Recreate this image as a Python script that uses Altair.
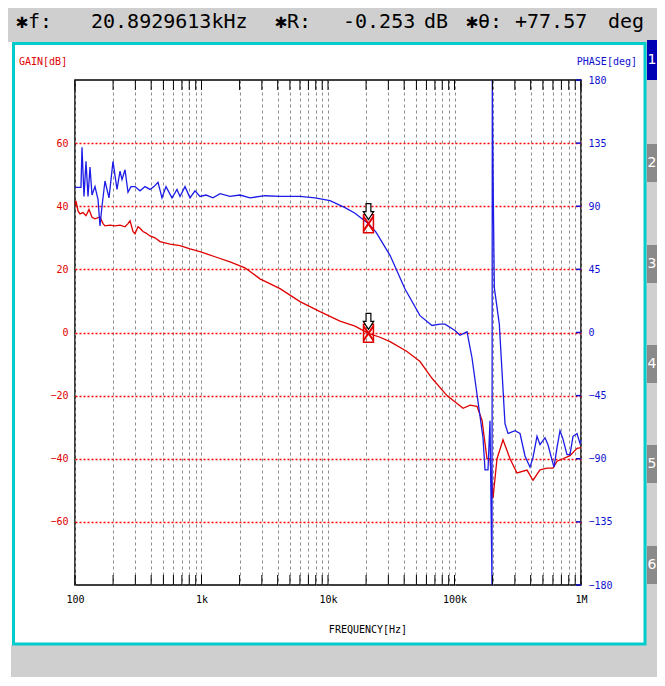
import altair as alt
import pandas as pd

# ---------------- data ----------------
gain_freq = [100, 101.8, 105.6, 109.5, 115.7, 122.2, 129.0, 136.3, 143.9, 157.6,
             166.5, 172.6, 189.1, 207.2, 226.9, 248.5, 262.4, 272.2, 287.4, 298.1,
             314.8, 326.5, 344.8, 364.2, 391.6, 429.0, 469.9, 563.6, 676.1, 811.3,
             973.0, 1279, 1680, 2207, 2900, 4175, 6007, 8646, 12440, 16350,
             20893, 25770, 30920, 42130, 53380, 66390, 87230, 116800, 132600, 150600,
             165000, 180700, 190800, 201500, 216800, 241800, 274700, 312000, 374300, 417500,
             474300, 538500, 600800, 646100, 720600, 818500, 930000, 1000000]
gain_db = [40.5, 41.7, 38.5, 37.6, 38.0, 37.0, 39.0, 36.5, 36.0, 36.6,
           34.5, 33.8, 34.0, 33.8, 34.0, 33.5, 34.5, 35.4, 32.0, 31.3,
           33.5, 33.0, 32.0, 31.5, 30.6, 30.0, 28.8, 28.0, 27.5, 26.5,
           25.6, 24.0, 22.4, 20.5, 17.0, 13.9, 9.8, 6.6, 3.6, 2.0,
           -0.253, -1.5, -2.9, -6.0, -9.2, -14.5, -20.0, -24.0, -23.0, -23.4,
           -27.8, -40.0, -40.0, -52.5, -40.0, -34.0, -40.0, -44.5, -43.6, -46.8,
           -43.5, -43.0, -43.0, -40.8, -40.0, -39.0, -36.7, -36.5]

phase_freq = [100, 111.5, 113.6, 117.8, 122.2, 126.7, 131.4, 136.3, 143.9, 152.0,
              157.6, 163.5, 172.6, 185.7, 199.7, 214.8, 226.9, 235.3, 248.5, 262.4,
              277.2, 298.1, 326.5, 357.6, 391.6, 421.3, 453.1, 487.3, 524.1, 584.5,
              640.2, 676.1, 740.7, 811.3, 888.4, 973.0, 1085.5, 1233, 1401, 1680,
              2015, 2418, 3177, 4175, 6007, 7891, 10370, 13630, 16350, 20893,
              23960, 30920, 40620, 53380, 66390, 76800, 84120, 100900, 110500, 125600,
              137500, 150600, 168000, 174300, 184000, 190800, 194300, 197900, 199000, 202500,
              206400, 226100, 250700, 264900, 300900, 329500, 360900, 395400, 417500, 448900,
              474300, 519300, 548400, 590000, 611800, 646100, 682300, 720600, 775100, 818500,
              864700, 930000, 982000, 1000000]
phase_deg = [103.5, 103.5, 132, 97, 122, 97, 118, 98, 104, 95,
             76, 90, 108, 96, 122, 102, 115, 109, 116, 100,
             104, 104, 101, 104, 102, 104, 107, 96, 104, 96,
             102, 97, 104, 96, 101, 97, 98, 96, 99, 97,
             98, 96, 97.5, 97, 97, 96, 94, 89, 85, 77.57,
             71.6, 55, 31, 12, 5, 6, 6, 1.4, -2, 0.5,
             -18, -44, -75, -98, -98, -63, -120, -180, 180, 99,
             32, 6, -65, -72, -70, -72, -88, -96, -89, -74,
             -80, -75, -80, -91, -96, -82, -70, -76, -87, -87,
             -74, -72, -79, -77]

marker_freq = 20892.9613
marker_gain = -0.253
marker_phase = 77.57

gain_ticks = [-60, -40, -20, 0, 20, 40, 60]
phase_ticks = [-180, -135, -90, -45, 0, 45, 90, 135, 180]
decade_values = [100, 1000, 10000, 100000, 1000000]
decade_labels = ["100", "1k", "10k", "100k", "1M"]
grid_freqs = [m * 10 ** d for d in range(2, 6) for m in range(1, 10)] + [10 ** 6]
tab_labels = ["1", "2", "3", "4", "5", "6"]

# ---------------- styling ----------------
RED = "#e00000"
BLUE = "#1c1ce6"
AXBLUE = "#1010d0"
CYAN = "#00cccc"
GRAY = "#cfcfcf"
MONO = "DejaVu Sans Mono"

gain_df = pd.DataFrame({"freq": gain_freq, "gain": gain_db, "i": range(len(gain_freq))})
phase_df = pd.DataFrame({"freq": phase_freq, "phase": phase_deg, "i": range(len(phase_freq))})
mk_df = pd.DataFrame({"freq": [marker_freq], "gain": [marker_gain], "phase": [marker_phase]})
grid_df = pd.DataFrame({"freq": grid_freqs})
ptick_df = pd.DataFrame({"p": phase_ticks})
one = pd.DataFrame({"a": [0]})

label_expr = " : ".join(
    f"datum.value == {v} ? '{l}'" for v, l in zip(decade_values, decade_labels)
) + " : ''"

x_scale = alt.Scale(type="log", domain=[100, 1000000])
gain_scale = alt.Scale(domain=[-80, 80])
phase_scale = alt.Scale(domain=[-180, 180])

x_axis = alt.Axis(values=grid_freqs, labelExpr=label_expr, grid=True, gridColor="#8c8c8c",
                  gridDash=[3, 3], gridWidth=1, ticks=False, domain=False,
                  labelFont=MONO, labelFontSize=10, labelColor="black", labelPadding=9,
                  labelFlush=False, labelOverlap=False, labelBound=False, title=None)
x_enc = alt.X("freq:Q", scale=x_scale, axis=x_axis)

gain_line = alt.Chart(gain_df).mark_line(color=RED, strokeWidth=1.3).encode(
    x=x_enc,
    y=alt.Y("gain:Q", scale=gain_scale,
            axis=alt.Axis(orient="left", values=gain_ticks, grid=True, gridColor="#ff0000",
                          gridDash=[2, 2], gridWidth=1.5, ticks=False, domain=False,
                          labelFont=MONO, labelFontSize=10, labelColor=RED, labelPadding=7,
                          title=None)),
    order="i:Q",
)

phase_line = alt.Chart(phase_df).mark_line(color=BLUE, strokeWidth=1.3).encode(
    x=x_enc,
    y=alt.Y("phase:Q", scale=phase_scale,
            axis=alt.Axis(orient="right", values=phase_ticks, grid=False, ticks=False,
                          domain=False, labelFont=MONO, labelFontSize=10, labelColor=AXBLUE,
                          labelPadding=7, title=None)),
    order="i:Q",
)

bottom_ticks = alt.Chart(grid_df).mark_rule(color="black", strokeWidth=1).encode(
    x=x_enc, y=alt.value(505), y2=alt.value(495))
top_ticks = alt.Chart(grid_df).mark_rule(color="black", strokeWidth=1).encode(
    x=x_enc, y=alt.value(0), y2=alt.value(10))
right_ticks = alt.Chart(ptick_df).mark_rule(color=AXBLUE, strokeWidth=1.5).encode(
    y=alt.Y("p:Q", scale=phase_scale, axis=None), x=alt.value(501), x2=alt.value(506))

BOX = "M -0.55 -1 L 0.55 -1 L 0.55 1 L -0.55 1 Z"
XSHAPE = "M -0.55 -0.8 L 0.55 0.8 M -0.55 0.8 L 0.55 -0.8"
ARROW = "M -0.3 -1 L 0.3 -1 L 0.3 0 L 0.65 0 L 0 1 L -0.65 0 L -0.3 0 Z"

marker_layers = []
for field, sc in (("gain", gain_scale), ("phase", phase_scale)):
    yenc = alt.Y(f"{field}:Q", scale=sc, axis=None)
    base = alt.Chart(mk_df)
    marker_layers.append(base.mark_point(shape=BOX, size=324, filled=False, stroke=RED,
                                         strokeWidth=1.5, opacity=1).encode(x=x_enc, y=yenc))
    marker_layers.append(base.mark_point(shape=XSHAPE, size=324, filled=False, stroke=RED,
                                         strokeWidth=2, opacity=1).encode(x=x_enc, y=yenc))
    marker_layers.append(base.mark_point(shape=ARROW, size=256, filled=True, fill="white",
                                         stroke="black", strokeWidth=1.2, opacity=1,
                                         yOffset=-12).encode(x=x_enc, y=yenc))

# ---------------- frame decorations (screen chrome) ----------------
def rect(x, x2, y, y2, **kw):
    return alt.Chart(one).mark_rect(**kw).encode(
        x=alt.value(x), x2=alt.value(x2), y=alt.value(y), y2=alt.value(y2))

def text(s, x, y, **kw):
    return alt.Chart(one).mark_text(**kw).encode(
        x=alt.value(x), y=alt.value(y), text=alt.value(s))

deco = [
    rect(-80, 600, -90, -38, color=GRAY),
    rect(569, 600, -38, 620, color=GRAY),
    rect(-64, 600, 565, 620, color=GRAY),
    rect(-61.5, 570, -36.5, 564, fillOpacity=0, stroke=CYAN, strokeWidth=3),
]

tab_centers = [-20, 83, 184, 284, 384, 485]
for k, (lab, cy) in enumerate(zip(tab_labels, tab_centers)):
    deco.append(rect(572, 584, cy - 20 if k == 0 else cy - 19, cy + 20 if k == 0 else cy + 19,
                     color="#0000b4" if k == 0 else "#8a8a8a"))
    deco.append(text(lab, 577, cy, font="DejaVu Sans", fontSize=14, color="white",
                     align="center", baseline="middle"))

hdr_font = dict(font=MONO, fontSize=20, color="black", align="left", baseline="middle")
HY = -58
header = [
    text("✱f:", -59, HY, **hdr_font),
    text(f"{marker_freq / 1000:.7f}kHz", 16, HY, **hdr_font),
    text("✱R:", 200, HY, **hdr_font),
    text(f"{marker_gain:.3f}", 268, HY, **hdr_font),
    text("dB", 349, HY, **hdr_font),
    text("✱θ:", 391, HY, **hdr_font),
    text(f"{marker_phase:+.2f}", 440, HY, **hdr_font),
    text("deg", 533, HY, **hdr_font),
]

titles = [
    text("GAIN[dB]", -56, -18, font=MONO, fontSize=10, color=RED, align="left", baseline="middle"),
    text("PHASE[deg]", 562, -18, font=MONO, fontSize=10, color=AXBLUE, align="right", baseline="middle"),
    text("FREQUENCY[Hz]", 293, 550, font=MONO, fontSize=10, color="black", align="center", baseline="middle"),
]

chart = alt.layer(
    *deco, *header, *titles,
    gain_line, phase_line, bottom_ticks, top_ticks, right_ticks, *marker_layers,
).resolve_scale(y="independent").properties(
    width=506, height=505,
    autosize=alt.AutoSizeParams(type="none"),
    padding={"left": 67, "top": 72, "right": 76, "bottom": 92},
    background="white",
).configure_view(stroke="black", strokeWidth=1.5, fill="white")

chart.save("out.html", embed_options={"renderer": "svg", "actions": False})
